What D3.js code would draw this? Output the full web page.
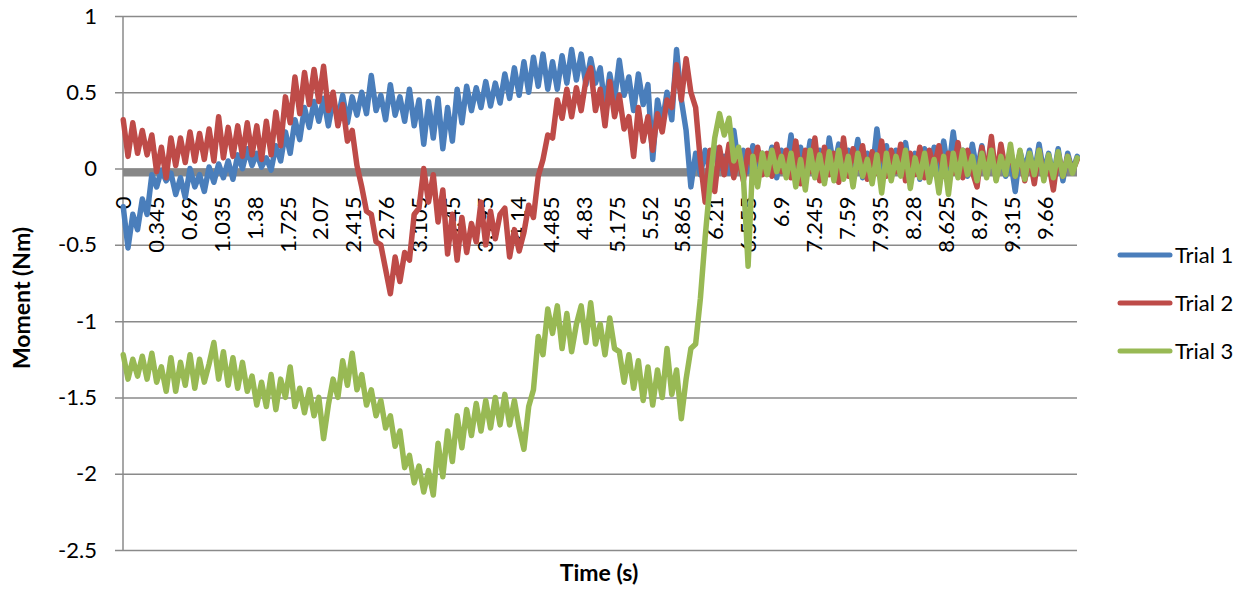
<!DOCTYPE html>
<html>
<head>
<meta charset="utf-8">
<script src="https://cdn.jsdelivr.net/npm/d3@7/dist/d3.min.js"></script>
<style>
  html, body { margin: 0; padding: 0; background: #ffffff; }
  svg { display: block; }
  text { font-family: Lato, "Liberation Sans", sans-serif; fill: #000; }
</style>
</head>
<body>
<svg id="chart" width="1256" height="590"></svg>
<script>
// ---------------- DATA ----------------
const seriesNames = ["Trial 1", "Trial 2", "Trial 3"];
const seriesColors = ["#4A7EBB", "#BE4B48", "#98B954"];
const sampleStep = 0.05;      // seconds between listed samples
const sampleInterval = 0.005; // original recording interval (category width)
const sampleCount = 2000;     // number of recorded categories on the axis

const xTickLabels = ["0","0.345","0.69","1.035","1.38","1.725","2.07","2.415","2.76","3.105",
  "3.45","3.795","4.14","4.485","4.83","5.175","5.52","5.865","6.21","6.555","6.9","7.245",
  "7.59","7.935","8.28","8.625","8.97","9.315","9.66"];
const yTicks = [1, 0.5, 0, -0.5, -1, -1.5, -2, -2.5];

const trial1 = [
  -0.25,-0.52,-0.30,-0.40,-0.20,-0.30,-0.04,-0.12,-0.01,-0.08,
  -0.03,-0.17,-0.06,-0.19,0.00,-0.12,-0.04,-0.15,0.01,-0.09,
  0.03,-0.06,0.05,-0.07,0.09,0.00,0.13,0.02,0.10,0.01,
  0.07,-0.01,0.15,0.05,0.24,0.10,0.32,0.19,0.40,0.27,
  0.44,0.31,0.46,0.28,0.45,0.33,0.48,0.30,0.47,0.35,
  0.50,0.36,0.61,0.38,0.48,0.32,0.55,0.35,0.47,0.31,
  0.52,0.28,0.45,0.16,0.44,0.20,0.46,0.13,0.40,0.18,
  0.52,0.30,0.54,0.38,0.53,0.40,0.57,0.41,0.56,0.43,
  0.62,0.46,0.66,0.48,0.70,0.50,0.73,0.54,0.75,0.52,
  0.70,0.52,0.74,0.56,0.78,0.58,0.75,0.55,0.72,0.56,
  0.66,0.40,0.62,0.45,0.71,0.48,0.60,0.38,0.62,0.42,
  0.55,0.06,0.45,0.30,0.50,0.32,0.78,0.45,0.25,-0.12,
  0.10,-0.04,0.12,-0.02,0.14,0.00,0.08,-0.03,0.25,0.02,
  0.12,-0.02,0.15,-0.05,0.10,0.00,0.14,-0.06,0.12,-0.02,
  0.22,-0.05,0.14,-0.02,0.18,-0.04,0.12,-0.08,0.20,0.00,
  0.16,-0.04,0.12,0.00,0.19,-0.06,0.10,-0.03,0.26,0.01,
  0.15,-0.05,0.12,-0.02,0.17,-0.03,0.10,-0.07,0.13,-0.01,
  0.14,-0.03,0.18,-0.02,0.24,0.00,0.12,-0.05,0.16,-0.02,
  0.15,-0.04,0.12,-0.03,0.10,-0.05,0.06,-0.15,0.11,-0.01,
  0.12,-0.04,0.16,-0.03,0.10,-0.06,0.13,-0.08,0.10,-0.02,
  0.08
];
const trial2 = [
  0.32,0.08,0.30,0.10,0.25,0.09,0.22,-0.02,0.14,-0.06,
  0.20,0.02,0.20,0.04,0.24,0.05,0.23,0.06,0.26,0.05,
  0.34,0.07,0.27,0.08,0.28,0.08,0.30,0.09,0.28,0.06,
  0.31,0.09,0.37,0.15,0.47,0.30,0.60,0.36,0.63,0.42,
  0.65,0.44,0.67,0.38,0.50,0.28,0.42,0.18,0.25,0.02,
  -0.12,-0.28,-0.30,-0.48,-0.50,-0.66,-0.82,-0.58,-0.74,-0.55,
  -0.60,-0.30,-0.26,0.00,-0.22,-0.04,-0.35,-0.14,-0.56,-0.30,
  -0.60,-0.32,-0.55,-0.36,-0.48,-0.22,-0.50,-0.28,-0.46,-0.30,
  -0.26,-0.58,-0.40,-0.54,-0.42,-0.24,-0.32,-0.05,0.06,0.22,
  0.20,0.45,0.33,0.52,0.34,0.53,0.38,0.58,0.66,0.38,
  0.52,0.28,0.57,0.34,0.48,0.26,0.34,0.08,0.40,0.18,
  0.34,0.12,0.36,0.24,0.45,0.40,0.68,0.45,0.72,0.50,
  0.40,0.05,-0.22,0.12,-0.15,0.14,-0.04,0.16,-0.06,0.08,
  -0.08,0.12,0.00,0.14,-0.04,0.10,-0.05,0.16,-0.02,0.12,
  -0.06,0.18,-0.10,0.12,-0.02,0.20,-0.08,0.14,-0.04,0.10,
  -0.09,0.20,-0.05,0.13,0.00,0.15,-0.07,0.11,-0.03,0.18,
  -0.05,0.12,-0.02,0.16,-0.08,0.10,-0.04,0.14,-0.06,0.12,
  0.00,0.15,-0.05,0.10,-0.03,0.17,-0.06,0.12,-0.02,-0.12,
  0.14,-0.04,0.21,-0.07,0.16,-0.02,0.12,-0.05,0.10,-0.08,
  0.08,-0.10,0.12,-0.06,0.04,-0.14,0.10,-0.05,0.08,-0.02,
  0.06
];
const trial3 = [
  -1.22,-1.38,-1.25,-1.36,-1.23,-1.38,-1.21,-1.40,-1.30,-1.46,
  -1.24,-1.46,-1.27,-1.42,-1.22,-1.44,-1.25,-1.40,-1.28,-1.14,
  -1.38,-1.20,-1.42,-1.24,-1.44,-1.27,-1.46,-1.36,-1.55,-1.40,
  -1.56,-1.35,-1.58,-1.38,-1.50,-1.30,-1.56,-1.44,-1.60,-1.45,
  -1.62,-1.50,-1.77,-1.55,-1.38,-1.50,-1.26,-1.42,-1.21,-1.45,
  -1.35,-1.55,-1.45,-1.62,-1.52,-1.70,-1.62,-1.82,-1.72,-1.96,
  -1.88,-2.06,-1.95,-2.12,-1.98,-2.14,-1.80,-2.02,-1.72,-1.92,
  -1.62,-1.83,-1.58,-1.75,-1.54,-1.72,-1.52,-1.70,-1.50,-1.68,
  -1.48,-1.68,-1.52,-1.70,-1.84,-1.56,-1.45,-1.10,-1.22,-0.92,
  -1.08,-0.90,-1.18,-0.95,-1.20,-1.02,-0.90,-1.14,-0.88,-1.15,
  -1.02,-1.22,-0.98,-1.18,-1.20,-1.40,-1.22,-1.44,-1.26,-1.52,
  -1.30,-1.55,-1.32,-1.50,-1.18,-1.48,-1.32,-1.64,-1.38,-1.18,
  -1.15,-0.85,-0.45,-0.10,0.20,0.36,0.22,0.33,0.05,0.14,
  -0.05,-0.64,0.08,-0.12,0.10,-0.04,0.12,-0.02,0.08,-0.06,
  0.10,-0.12,0.06,-0.14,0.12,-0.06,0.09,-0.10,0.11,-0.08,
  0.12,-0.07,0.08,-0.12,0.10,-0.05,0.06,-0.10,0.09,-0.16,
  0.10,-0.08,0.08,-0.05,0.12,-0.13,0.07,-0.06,0.10,-0.09,
  0.06,-0.16,0.08,-0.17,0.10,-0.06,0.12,-0.04,0.08,-0.08,
  0.10,-0.06,0.12,-0.08,0.08,-0.04,0.16,-0.05,0.12,-0.07,
  0.10,-0.04,0.12,-0.08,0.09,-0.06,0.11,-0.05,0.08,-0.03,
  0.07
];
const seriesValues = [trial1, trial2, trial3];

// ---------------- LAYOUT ----------------
const plot = { left: 123, right: 1077, top: 16, bottom: 550 };
const gridColor = "#8A8A8A";

const svg = d3.select("#chart");

const x = d3.scaleLinear()
  .domain([-sampleInterval / 2, sampleCount * sampleInterval - sampleInterval / 2])
  .range([plot.left, plot.right]);
const y = d3.scaleLinear().domain([-2.5, 1]).range([plot.bottom, plot.top]);

// horizontal gridlines + y axis
const yAxis = d3.axisLeft(y)
  .tickValues(yTicks)
  .tickSize(-(plot.right - plot.left))
  .tickSizeOuter(0)
  .tickPadding(26)
  .tickFormat(d => String(d));

const gy = svg.append("g")
  .attr("transform", `translate(${plot.left},0)`)
  .call(yAxis);
gy.select(".domain").remove();
gy.selectAll(".tick line")
  .attr("x1", -8)
  .attr("stroke", gridColor)
  .attr("stroke-width", 1.5);
gy.selectAll(".tick text")
  .attr("font-size", 22)
  .attr("font-family", "Lato, sans-serif")
  .attr("fill", "#000");

// y axis line
svg.append("line")
  .attr("x1", plot.left).attr("x2", plot.left)
  .attr("y1", plot.top).attr("y2", plot.bottom)
  .attr("stroke", gridColor).attr("stroke-width", 1.5);

// thick horizontal (category) axis line at zero
svg.append("line")
  .attr("x1", plot.left).attr("x2", plot.right)
  .attr("y1", y(0) + 4).attr("y2", y(0) + 4)
  .attr("stroke", "#878787").attr("stroke-width", 8);

// x tick labels (rotated)
const gx = svg.append("g");
gx.selectAll("text")
  .data(xTickLabels)
  .join("text")
  .attr("transform", d => `translate(${x(+d)},${y(0) + 28}) rotate(-90)`)
  .attr("text-anchor", "end")
  .attr("dy", "0.35em")
  .attr("font-size", 22)
  .text(d => d);

// series lines
const line = d3.line()
  .x((d, i) => x(i * sampleStep))
  .y(d => y(d));

svg.append("g")
  .selectAll("path")
  .data(seriesValues)
  .join("path")
  .attr("d", d => line(d))
  .attr("fill", "none")
  .attr("stroke", (d, i) => seriesColors[i])
  .attr("stroke-width", 5.5)
  .attr("stroke-linejoin", "round")
  .attr("stroke-linecap", "round");

// axis titles
svg.append("text")
  .attr("transform", `translate(30,${(plot.top + plot.bottom) / 2 + 15}) rotate(-90)`)
  .attr("text-anchor", "middle")
  .attr("font-size", 23)
  .attr("font-weight", "bold")
  .text("Moment (Nm)");

svg.append("text")
  .attr("x", 599)
  .attr("y", 581)
  .attr("text-anchor", "middle")
  .attr("font-size", 23)
  .attr("font-weight", "bold")
  .text("Time (s)");

// legend
const legend = svg.append("g");
const legendY = [255, 303, 351];
seriesNames.forEach((name, i) => {
  legend.append("line")
    .attr("x1", 1120).attr("x2", 1170)
    .attr("y1", legendY[i]).attr("y2", legendY[i])
    .attr("stroke", seriesColors[i])
    .attr("stroke-width", 5)
    .attr("stroke-linecap", "round");
  legend.append("text")
    .attr("x", 1175)
    .attr("y", legendY[i])
    .attr("dy", "0.36em")
    .attr("font-size", 22)
    .text(name);
});
</script>
</body>
</html>
